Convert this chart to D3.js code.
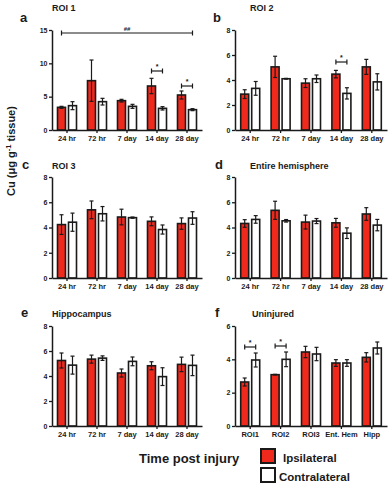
<!DOCTYPE html>
<html><head><meta charset="utf-8">
<script src="https://cdn.jsdelivr.net/npm/d3@7/dist/d3.min.js"></script>
<style>
body{margin:0;background:#fff;}
svg{display:block;font-family:"Liberation Sans",Arial,Helvetica,sans-serif;font-weight:bold;}
</style></head>
<body>
<svg id="chart" width="389" height="487"></svg>
<script>
// ---- data ----
const timeCats = ["24 hr","72 hr","7 day","14 day","28 day"];
const regionCats = ["ROI1","ROI2","ROI3","Ent. Hem","Hipp"];

const roi1Ipsi = [3.4, 7.4, 4.4, 6.6, 5.25];
const roi1IpsiErr = [0.15, 3.1, 0.2, 1.15, 0.6];
const roi1Contra = [3.65, 4.25, 3.55, 3.25, 3.05];
const roi1ContraErr = [0.6, 0.5, 0.3, 0.25, 0.15];

const roi2Ipsi = [2.87, 5.05, 3.75, 4.47, 5.05];
const roi2IpsiErr = [0.35, 0.85, 0.35, 0.3, 0.6];
const roi2Contra = [3.33, 4.1, 4.1, 2.93, 3.85];
const roi2ContraErr = [0.55, 0.03, 0.3, 0.45, 0.65];

const roi3Ipsi = [4.23, 5.4, 4.83, 4.49, 4.31];
const roi3IpsiErr = [0.78, 0.7, 0.62, 0.35, 0.45];
const roi3Contra = [4.42, 5.09, 4.78, 3.84, 4.75];
const roi3ContraErr = [0.72, 0.57, 0.05, 0.36, 0.5];

const hemiIpsi = [4.32, 5.36, 4.43, 4.37, 5.07];
const hemiIpsiErr = [0.3, 0.72, 0.55, 0.35, 0.5];
const hemiContra = [4.64, 4.53, 4.51, 3.55, 4.19];
const hemiContraErr = [0.3, 0.1, 0.2, 0.42, 0.45];

const hippIpsi = [5.24, 5.35, 4.24, 4.82, 4.93];
const hippIpsiErr = [0.6, 0.32, 0.32, 0.32, 0.58];
const hippContra = [4.87, 5.43, 5.17, 3.95, 4.85];
const hippContraErr = [0.72, 0.18, 0.35, 0.71, 0.82];

const uninjIpsi = [2.64, 3.08, 4.44, 3.78, 4.12];
const uninjIpsiErr = [0.24, 0.02, 0.34, 0.2, 0.28];
const uninjContra = [3.96, 4.0, 4.32, 3.78, 4.68];
const uninjContraErr = [0.42, 0.44, 0.4, 0.2, 0.36];

const yTicksA = [0, 5, 10, 15];
const yTicks8 = [0, 2, 4, 6, 8];
const yTicksF = [0, 2, 4, 6];

// significance markers: [category index, bracket value, label]
const sigA = [[3, 8.85, "*"], [4, 6.6, "*"]];
const sigB = [[3, 5.44, "*"]];
const sigF = [[0, 4.74, "*"], [1, 4.8, "*"]];
const sigAllA = {from: 0, to: 4, value: 14.55, label: "##"};

// ---- layout ----
const RED = "#f0291d";
const INK = "#1a1a1a";
const colL = {x0: 52, x1: 202}, colR = {x0: 235, x1: 387};
const rows = [{top: 30, bottom: 130}, {top: 177, bottom: 278}, {top: 326, bottom: 426}];

const panels = [
  {letter:"a", title:"ROI 1", col:colL, row:rows[0], cats:timeCats, ipsi:roi1Ipsi, ie:roi1IpsiErr, contra:roi1Contra, ce:roi1ContraErr, max:15, ticks:yTicksA, sig:sigA, sigAll:sigAllA, lx:20, ly:22, tx:52, ty:11},
  {letter:"b", title:"ROI 2", col:colR, row:rows[0], cats:timeCats, ipsi:roi2Ipsi, ie:roi2IpsiErr, contra:roi2Contra, ce:roi2ContraErr, max:8, ticks:yTicks8, sig:sigB, lx:213, ly:22, tx:250, ty:11},
  {letter:"c", title:"ROI 3", col:colL, row:rows[1], cats:timeCats, ipsi:roi3Ipsi, ie:roi3IpsiErr, contra:roi3Contra, ce:roi3ContraErr, max:8, ticks:yTicks8, sig:[], lx:22, ly:169, tx:52, ty:169},
  {letter:"d", title:"Entire hemisphere", col:colR, row:rows[1], cats:timeCats, ipsi:hemiIpsi, ie:hemiIpsiErr, contra:hemiContra, ce:hemiContraErr, max:8, ticks:yTicks8, sig:[], lx:215, ly:169, tx:250, ty:169},
  {letter:"e", title:"Hippocampus", col:colL, row:rows[2], cats:timeCats, ipsi:hippIpsi, ie:hippIpsiErr, contra:hippContra, ce:hippContraErr, max:8, ticks:yTicks8, sig:[], lx:21, ly:317, tx:52, ty:317},
  {letter:"f", title:"Uninjured", col:colR, row:rows[2], cats:regionCats, ipsi:uninjIpsi, ie:uninjIpsiErr, contra:uninjContra, ce:uninjContraErr, max:6, ticks:yTicksF, sig:sigF, lx:215, ly:317, tx:252, ty:317}
];

const svg = d3.select("#chart");

panels.forEach(p => {
  const g = svg.append("g");
  const x = d3.scaleBand().domain(p.cats).range([p.col.x0, p.col.x1]).padding(0);
  const y = d3.scaleLinear().domain([0, p.max]).range([p.row.bottom, p.row.top]);
  const bw = 8, gap = 1.5, cap = 2;
  const cx = c => x(c) + x.bandwidth() / 2;

  // bars
  const series = [
    {vals: p.ipsi, errs: p.ie, fill: RED, dx: -(gap + bw)},
    {vals: p.contra, errs: p.ce, fill: "#fff", dx: gap}
  ];
  series.forEach(s => {
    g.selectAll(null).data(p.cats).enter().append("rect")
      .attr("x", c => cx(c) + s.dx)
      .attr("y", (c, i) => y(s.vals[i]))
      .attr("width", bw)
      .attr("height", (c, i) => y(0) - y(s.vals[i]))
      .attr("fill", s.fill).attr("stroke", INK).attr("stroke-width", 1.6);
  });
  series.forEach(s => {
    const ex = c => cx(c) + s.dx + bw / 2;
    const eg = g.selectAll(null).data(p.cats).enter().append("g");
    eg.append("line").attr("x1", ex).attr("x2", ex)
      .attr("y1", (c, i) => y(s.vals[i] - s.errs[i])).attr("y2", (c, i) => y(s.vals[i] + s.errs[i]))
      .attr("stroke", INK).attr("stroke-width", 1.2);
    [1, -1].forEach(sign => {
      eg.append("line").attr("x1", c => ex(c) - cap).attr("x2", c => ex(c) + cap)
        .attr("y1", (c, i) => y(s.vals[i] + sign * s.errs[i])).attr("y2", (c, i) => y(s.vals[i] + sign * s.errs[i]))
        .attr("stroke", INK).attr("stroke-width", 1.2);
    });
  });

  // axes
  const ya = g.append("g").attr("transform", `translate(${p.col.x0},0)`)
    .call(d3.axisLeft(y).tickValues(p.ticks).tickSize(3).tickSizeOuter(0).tickPadding(1.5).tickFormat(d3.format("d")));
  const xa = g.append("g").attr("transform", `translate(0,${p.row.bottom})`)
    .call(d3.axisBottom(x).tickSize(3).tickSizeOuter(0).tickPadding(2.5));
  [ya, xa].forEach(a => {
    a.select(".domain").attr("stroke", INK).attr("stroke-width", 1.5);
    a.selectAll(".tick line").attr("stroke", INK).attr("stroke-width", 1.3);
    a.selectAll("text").attr("fill", INK).attr("font-family", "Liberation Sans, Arial, sans-serif").attr("font-weight", "bold");
  });
  ya.selectAll("text").attr("font-size", 7);
  xa.selectAll("text").attr("font-size", 7.5);

  // significance
  const bracket = (xa1, xa2, yy, label, fs) => {
    g.append("line").attr("x1", xa1).attr("x2", xa2).attr("y1", yy).attr("y2", yy).attr("stroke", INK).attr("stroke-width", 1.2);
    [xa1, xa2].forEach(xx => g.append("line").attr("x1", xx).attr("x2", xx).attr("y1", yy - 2.5).attr("y2", yy + 2.5).attr("stroke", INK).attr("stroke-width", 1.2));
    g.append("text").attr("x", (xa1 + xa2) / 2).attr("y", yy - 2).attr("text-anchor", "middle").attr("font-size", fs).attr("fill", INK).text(label);
  };
  p.sig.forEach(([i, v, lab]) => {
    const c = p.cats[i];
    bracket(cx(c) - gap - bw / 2, cx(c) + gap + bw / 2, y(v), lab, 7);
  });
  if (p.sigAll) {
    const a = p.sigAll;
    bracket(cx(p.cats[a.from]) - gap - bw / 2, cx(p.cats[a.to]) + gap + bw / 2, y(a.value), a.label, 6);
  }

  // labels
  svg.append("text").attr("x", p.lx).attr("y", p.ly).attr("font-size", 13).attr("fill", INK).text(p.letter);
  svg.append("text").attr("x", p.tx).attr("y", p.ty).attr("font-size", 9).attr("fill", INK).text(p.title);
});

// y-axis title
const yt = svg.append("text").attr("transform", "translate(15,151) rotate(-90)")
  .attr("text-anchor", "middle").attr("font-size", 11).attr("fill", INK);
yt.append("tspan").text("Cu (\u03bcg g");
yt.append("tspan").attr("dy", -4).attr("font-size", 7.5).text("-1");
yt.append("tspan").attr("dy", 4).text(" tissue)");

// legend
svg.append("text").attr("x", 139).attr("y", 463).attr("font-size", 13).attr("fill", INK).text("Time post injury");
const legendItems = [{label: "Ipsilateral", fill: RED}, {label: "Contralateral", fill: "#fff"}];
legendItems.forEach((d, i) => {
  svg.append("rect").attr("x", 261).attr("y", 449 + i * 19).attr("width", 14).attr("height", 14)
    .attr("fill", d.fill).attr("stroke", INK).attr("stroke-width", 2);
  svg.append("text").attr("x", i === 0 ? 283 : 279).attr("y", 462 + i * 19).attr("font-size", 11.5).attr("fill", INK).text(d.label);
});
</script>
</body></html>
